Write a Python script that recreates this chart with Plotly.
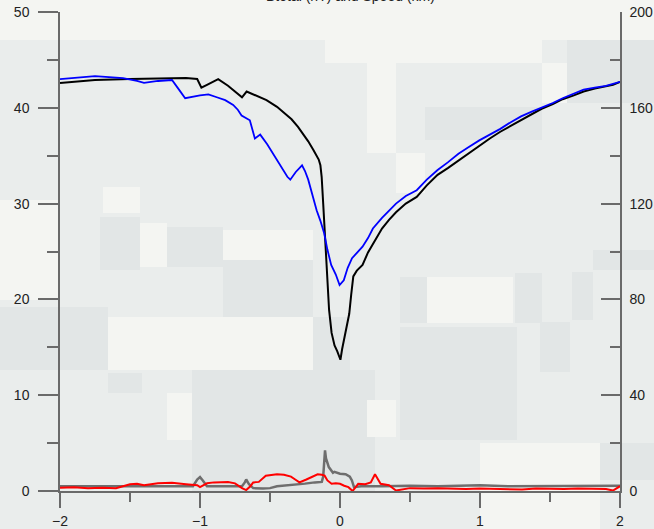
import plotly.graph_objects as go

# ---------------- data ----------------
black_x = [-2.0, -1.9, -1.75, -1.5, -1.25, -1.1, -1.02, -0.99, -0.95, -0.87, -0.8, -0.74, -0.70,
           -0.667, -0.6, -0.525, -0.45, -0.4, -0.346, -0.3, -0.25, -0.227, -0.19, -0.152, -0.14,
           -0.131, -0.12, -0.107, -0.09, -0.078, -0.06, -0.039, -0.02, 0.003, 0.015, 0.027, 0.045,
           0.066, 0.08, 0.095, 0.12, 0.161, 0.2, 0.25, 0.3, 0.35, 0.40, 0.47, 0.548, 0.62, 0.697,
           0.77, 0.846, 0.92, 0.995, 1.07, 1.145, 1.22, 1.293, 1.37, 1.44, 1.52, 1.59, 1.67, 1.74,
           1.82, 1.89, 1.95, 2.0]
black_y = [42.6, 42.7, 42.9, 43.0, 43.05, 43.1, 43.0, 42.1, 42.4, 43.0, 42.3, 41.6, 41.1,
           41.7, 41.3, 40.8, 40.1, 39.5, 38.8, 38.0, 37.0, 36.5, 35.6, 34.6, 34.0,
           32.8, 30.0, 26.5, 22.0, 18.9, 16.5, 15.2, 14.6, 13.7, 14.8, 15.6, 16.9,
           18.5, 20.5, 22.4, 23.0, 23.6, 24.9, 26.2, 27.4, 28.3, 29.1, 30.0, 30.7, 31.9, 33.0,
           33.7, 34.5, 35.3, 36.1, 36.8, 37.5, 38.1, 38.7, 39.3, 39.9, 40.4, 40.9, 41.3, 41.7,
           42.0, 42.2, 42.4, 42.7]

blue_x = [-2.0, -1.9, -1.75, -1.65, -1.55, -1.45, -1.4, -1.3, -1.2, -1.15, -1.106, -1.0, -0.94,
          -0.88, -0.82, -0.763, -0.73, -0.703, -0.644, -0.608, -0.57, -0.52, -0.465, -0.42,
          -0.376, -0.355, -0.316, -0.271, -0.25, -0.227, -0.2, -0.167, -0.14, -0.113, -0.09,
          -0.063, -0.03, -0.003, 0.027, 0.055, 0.086, 0.12, 0.161, 0.2, 0.235, 0.3, 0.35, 0.40,
          0.47, 0.548, 0.62, 0.697, 0.77, 0.846, 0.92, 0.995, 1.07, 1.145, 1.22, 1.293, 1.37,
          1.44, 1.52, 1.59, 1.67, 1.74, 1.82, 1.9, 2.0]
blue_y = [43.0, 43.1, 43.3, 43.2, 43.1, 42.8, 42.6, 42.8, 42.9, 41.9, 41.0, 41.3, 41.4,
          41.1, 40.8, 40.3, 39.8, 39.2, 38.7, 36.8, 37.2, 36.2, 34.9, 33.9,
          32.8, 32.5, 33.3, 34.0, 33.4, 32.5, 31.0, 29.3, 28.2, 26.9, 25.2,
          23.6, 22.6, 21.5, 22.0, 23.3, 24.3, 24.8, 25.5, 26.4, 27.4, 28.5, 29.3, 30.0,
          30.8, 31.4, 32.5, 33.5, 34.3, 35.2, 35.9, 36.6, 37.2, 37.8, 38.5, 39.1, 39.6,
          40.0, 40.5, 41.0, 41.5, 41.9, 42.1, 42.3, 42.7]

red_x = [-2.0, -1.9, -1.8, -1.7, -1.6, -1.5, -1.45, -1.4, -1.3, -1.2, -1.1, -1.02, -1.0,
         -0.95, -0.9, -0.8, -0.75, -0.7, -0.67, -0.64, -0.62, -0.58, -0.53, -0.45, -0.4,
         -0.35, -0.32, -0.29, -0.24, -0.2, -0.16, -0.13, -0.11, -0.09, -0.06, -0.03, 0.0, 0.03,
         0.06, 0.09, 0.13, 0.18, 0.22, 0.25, 0.29, 0.35, 0.4, 0.5, 0.6, 0.7, 0.8, 0.9, 1.0,
         1.1, 1.2, 1.3, 1.4, 1.5, 1.6, 1.7, 1.8, 1.9, 1.95, 2.0]
red_y = [0.35, 0.4, 0.3, 0.35, 0.3, 0.7, 0.75, 0.6, 0.8, 0.85, 0.7, 0.6, 0.4,
         0.8, 0.9, 0.95, 0.8, 0.3, 0.1, 0.5, 0.9, 0.95, 1.6, 1.75, 1.7,
         1.5, 1.2, 0.9, 1.2, 1.45, 1.75, 1.7, 1.6, 1.1, 0.75, 0.8, 0.75, 0.55,
         0.4, 0.0, 0.75, 0.7, 0.9, 1.75, 0.75, 0.6, 0.05, 0.3, 0.25, 0.3, 0.25, 0.2, 0.25,
         0.2, 0.2, 0.15, 0.25, 0.2, 0.2, 0.25, 0.2, 0.2, 0.05, 0.5]

gray_x = [-2.0, -1.8, -1.6, -1.4, -1.2, -1.05, -1.02, -1.0, -0.98, -0.95, -0.85, -0.75, -0.7,
          -0.68, -0.67, -0.65, -0.62, -0.55, -0.5, -0.45, -0.35, -0.25, -0.18, -0.13, -0.12,
          -0.107, -0.1, -0.08, -0.05, -0.04, 0.0, 0.04, 0.07, 0.085, 0.1, 0.15, 0.3, 0.5, 0.7,
          0.9, 1.0, 1.2, 1.4, 1.6, 1.8, 2.0]
gray_y = [0.5, 0.5, 0.45, 0.5, 0.45, 0.5, 1.2, 1.45, 1.1, 0.5, 0.5, 0.5, 0.5,
          0.9, 1.2, 0.7, 0.3, 0.25, 0.3, 0.5, 0.6, 0.77, 0.9, 0.95, 1.5,
          4.25, 3.4, 2.5, 1.9, 2.0, 1.8, 1.75, 1.5, 1.1, 0.4, 0.5, 0.5, 0.55, 0.5,
          0.55, 0.6, 0.5, 0.5, 0.5, 0.5, 0.55]

left_ticks = [0, 10, 20, 30, 40, 50]
right_ticks = [0, 40, 80, 120, 160, 200]
x_ticks = [-2, -1, 0, 1, 2]
title_text = "Btotal (nT) and Speed (km)"

# ---------------- layout geometry ----------------
W, H = 654, 529
ML, MR, MT, MB = 60, 34, 12, 38
PW, PH = W - ML - MR, H - MT - MB


def px2paper(x0, y0, x1, y1):
    return ((x0 - ML) / PW, (H - MB - y1) / PH, (x1 - ML) / PW, (H - MB - y0) / PH)


LIGHT = "#f4f5f2"
DARK = "#e2e6e6"
# camouflage-like background blocks (pixel rectangles: x0, y0, x1, y1, colour)
bg_blocks = [
    (0, 0, 654, 40, LIGHT),
    (325, 40, 396, 63, LIGHT), (367, 40, 396, 153, LIGHT), (396, 40, 542, 63, LIGHT),
    (542, 63, 567, 103, LIGHT), (396, 153, 425, 193, LIGHT),
    (425, 107, 542, 140, DARK), (567, 40, 654, 103, DARK),
    (103, 187, 140, 213, LIGHT), (140, 223, 167, 267, LIGHT), (223, 230, 313, 260, LIGHT),
    (100, 217, 140, 270, DARK), (167, 227, 223, 267, DARK), (223, 260, 313, 320, DARK),
    (107, 317, 313, 370, LIGHT), (313, 317, 350, 400, DARK),
    (427, 277, 513, 323, LIGHT), (515, 273, 542, 323, DARK), (572, 272, 593, 320, DARK),
    (540, 322, 570, 372, DARK), (593, 250, 654, 270, DARK), (400, 277, 427, 323, DARK),
    (400, 327, 517, 440, DARK), (480, 443, 600, 529, LIGHT), (600, 443, 654, 480, DARK),
    (0, 307, 108, 370, DARK), (108, 373, 142, 393, DARK), (167, 393, 192, 440, LIGHT),
    (192, 370, 375, 493, DARK), (367, 400, 396, 437, LIGHT), (0, 200, 60, 300, LIGHT),
]

shapes = []
for x0, y0, x1, y1, c in bg_blocks:
    a, b, cc, d = px2paper(x0, y0, x1, y1)
    shapes.append(dict(type="rect", xref="paper", yref="paper", x0=a, y0=b, x1=cc, y1=d,
                       fillcolor=c, line=dict(width=0), layer="below"))

fig = go.Figure()
fig.add_trace(go.Scatter(x=gray_x, y=gray_y, mode="lines", line=dict(color="#6e6e6e", width=2.5)))
fig.add_trace(go.Scatter(x=red_x, y=red_y, mode="lines", line=dict(color="#ff0000", width=2)))
fig.add_trace(go.Scatter(x=black_x, y=black_y, mode="lines", line=dict(color="#000000", width=2)))
fig.add_trace(go.Scatter(x=blue_x, y=blue_y, mode="lines", line=dict(color="#0000ff", width=1.8)))
# invisible trace to activate the right-hand axis
fig.add_trace(go.Scatter(x=[-2, 2], y=[0, 200], yaxis="y2", mode="lines",
                         line=dict(width=0), hoverinfo="skip"))

axcol = "#6a6a6a"
font = dict(family="Arial, Liberation Sans, sans-serif", size=14, color="#222222")

fig.update_layout(
    width=W, height=H,
    margin=dict(l=ML, r=MR, t=MT, b=MB, autoexpand=False),
    paper_bgcolor="#eaedec", plot_bgcolor="rgba(0,0,0,0)",
    showlegend=False, font=font, shapes=shapes,
    xaxis=dict(range=[-2, 2], tickvals=x_ticks, showgrid=False, zeroline=False, automargin=False,
               showline=True, linecolor=axcol, linewidth=1.5, ticks="outside", ticklen=15,
               tickwidth=1.5, tickcolor=axcol, ticklabelstandoff=1,
               minor=dict(ticks="outside", dtick=0.5, ticklen=9, tickwidth=1.5, tickcolor=axcol)),
    yaxis=dict(range=[0, 50], tickvals=left_ticks, showgrid=False, zeroline=False, automargin=False,
               showline=True, linecolor=axcol, linewidth=1.5, ticks="outside", ticklen=20,
               tickwidth=1.5, tickcolor=axcol, ticklabelstandoff=6,
               minor=dict(ticks="outside", dtick=5, ticklen=11, tickwidth=1.5, tickcolor=axcol)),
    yaxis2=dict(range=[0, 200], tickvals=right_ticks, overlaying="y", side="right", automargin=False,
                showgrid=False, zeroline=False, showline=True, linecolor=axcol, linewidth=1.5,
                ticks="inside", ticklen=19, tickwidth=1.5, tickcolor=axcol, ticklabelstandoff=5,
                minor=dict(ticks="inside", dtick=20, ticklen=10, tickwidth=1.5, tickcolor=axcol)),
    annotations=[dict(text=title_text, xref="paper", yref="paper", x=(350 - ML) / PW, y=1,
                      xanchor="center", yanchor="bottom", yshift=6, showarrow=False,
                      font=dict(family="Arial, Liberation Sans, sans-serif", size=14,
                                color="#222222"))],
)

fig.write_html("out.html", config={"displayModeBar": False},
               post_script="document.body.style.margin='0';document.body.style.overflow='hidden';")
